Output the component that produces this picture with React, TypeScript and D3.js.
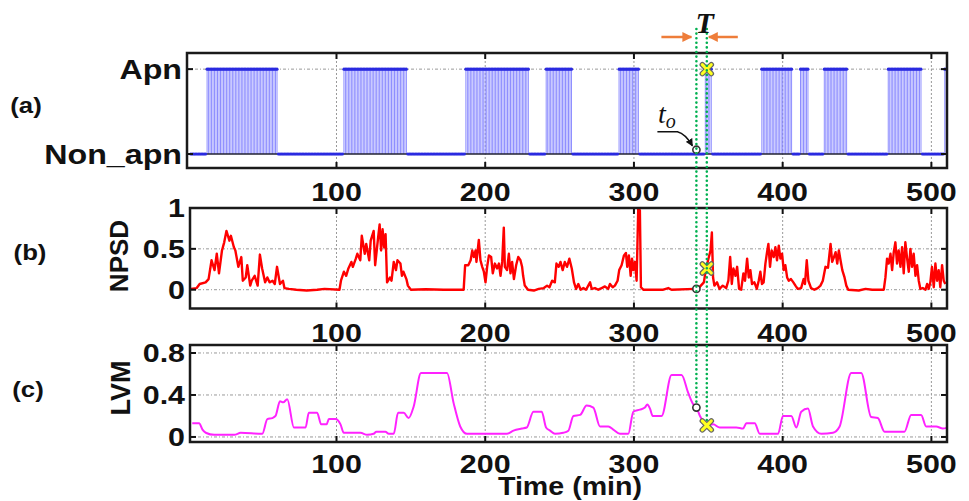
import React, { useEffect, useRef } from 'react';
import * as d3 from 'd3';

const W = 969;
const H = 501;

// apnea episodes in minutes (start / end), everything else is Non_apn
const apneaStart = [13, 105, 187, 241, 290, 348, 386, 412, 428, 471, 509];
const apneaEnd = [60, 147, 229, 258, 303, 352, 406, 417, 443, 493, 510];

const xTicks = [100, 200, 300, 400, 500];
const npsdTicks = [0, 0.5, 1];
const lvmTicks = [0, 0.4, 0.8];

// NPSD [time (min), value]
const npsd = [
  [2, 0.01], [6, 0.02], [8, 0.07], [12, 0.09], [14, 0.13], [16, 0.36], [18, 0.24], [19.5, 0.44], [21, 0.2], [23, 0.48],
  [24.5, 0.58], [26, 0.72], [28, 0.6], [29, 0.66], [31, 0.52], [32, 0.48], [34, 0.28], [36, 0.4], [37, 0.11], [39, 0.15],
  [40, 0.3], [42, 0.05], [43, 0.11], [45, 0.17], [47, 0.05], [48.5, 0.43], [50, 0.26], [52, 0.09], [53.5, 0.15], [55, 0.09],
  [57, 0.11], [58.5, 0.07], [60, 0.28], [62, 0.07], [64, 0.11], [65, 0.02], [68, 0.01], [73, 0], [80, -0.01], [87, 0],
  [92, 0.01], [102, 0], [103, 0.11], [105, 0.22], [106.5, 0.17], [108, 0.26], [110, 0.34], [111, 0.28], [113, 0.38], [114, 0.44],
  [116, 0.36], [117, 0.66], [119, 0.44], [120, 0.56], [122, 0.36], [123, 0.6], [125, 0.72], [126, 0.3], [128, 0.64], [129, 0.8],
  [130, 0.48], [131, 0.74], [132, 0.52], [133, 0.68], [134, 0.09], [136, 0.15], [137, 0.11], [138.5, 0.34], [140, 0.24], [141, 0.36],
  [143, 0.32], [144, 0.17], [145, 0.22], [147, 0.13], [148, 0.05], [150, 0], [160, 0.005], [172, 0], [185.5, 0],
  [186.5, 0.3], [188.6, 0.3], [190.2, 0.36], [191.3, 0.48], [192.4, 0.4], [193.5, 0.48], [194.1, 0.34], [195.7, 0.61], [196.8, 0.36], [198, 0.28],
  [199.1, 0.22], [200.2, 0.09], [201.3, 0.28], [202.5, 0.42], [204, 0.4], [205.1, 0.2], [206.5, 0.32], [208, 0.26], [209.2, 0.32], [210.3, 0.17],
  [211.4, 0.34], [212.5, 0.76], [213.2, 0.28], [214.7, 0.24], [215.9, 0.44], [217, 0.2], [218.1, 0.34], [219.3, 0.13], [220.8, 0.3], [222.2, 0.4],
  [223.7, 0.36], [224.8, 0.28], [225.5, 0.17], [226.6, 0.05], [228.8, 0], [232.7, -0.01], [236, 0.01], [239.4, 0.02], [241.6, 0.05], [243.2, 0.03],
  [245, 0.11], [246.8, 0.09], [247.9, 0.32], [249.4, 0.28], [250.6, 0.34], [252.1, 0.24], [253.5, 0.34], [255, 0.28], [256.6, 0.38], [258.2, 0.26],
  [259.7, 0.09], [261.1, 0.01], [262.6, 0.07], [264.2, 0], [266, 0.02], [267.8, 0], [269.3, 0.05], [270.5, 0.09], [271.6, 0.01], [273.8, 0.02],
  [276, 0], [278.3, 0.02], [280.5, 0.04], [282.7, 0.01], [283.9, 0.07], [285.7, 0.03], [287.2, 0.05], [289, 0.11], [290.1, 0.24], [291.7, 0.3],
  [293.3, 0.42], [294.6, 0.45], [295.5, 0.28], [296.6, 0.42], [297.8, 0.17], [298.7, 0.38], [299.6, 0.24], [300.7, 0.34], [301.8, 0.11], [302.9, 1.0],
  [304, 0.97], [304.7, 0.03], [306.3, 0], [319.7, 0], [323.1, 0.02], [325.3, 0], [341, 0.01], [343, 0.01], [347, 0.09], [348.5, 0.26],
  [350.1, 0.38], [351.5, 0.48], [352.4, 0.7], [353.2, 0.15], [354.1, 0.05], [355.9, 0.09], [357.5, 0.01], [359.7, 0.05], [362, 0.02], [363.5, 0.11],
  [364.7, 0.4], [365.8, 0.07], [366.9, 0.26], [368.3, 0.17], [369.4, 0.28], [370.7, 0.01], [372.1, 0], [373.6, 0.2], [374.7, 0.11], [376.1, 0.38],
  [377.2, 0.15], [378.3, 0.24], [379.4, 0.07], [381, 0.09], [382.6, 0.01], [383.9, 0.11], [385, 0.22], [386.1, 0.07], [387.2, 0.09], [388.4, 0.32],
  [389.5, 0.46], [390.4, 0.56], [391.5, 0.28], [392.6, 0.48], [394, 0.4], [395.1, 0.52], [396.2, 0.36], [397.4, 0.54], [398.5, 0.38], [399.6, 0.44],
  [400.7, 0.24], [401.8, 0.3], [403, 0.15], [404.1, 0.11], [405.6, 0.13], [407.2, 0.09], [408.6, 0.05], [410.1, 0.01], [412.4, 0.02], [414.1, 0.13],
  [415, 0.07], [416.2, 0.36], [417.3, 0.11], [419.1, 0.02], [421.3, 0], [423.6, 0.02], [425.4, 0.05], [427, 0.11], [428.8, 0.28], [430.5, 0.27],
  [432.2, 0.56], [433.3, 0.34], [434.5, 0.4], [435.6, 0.46], [436.7, 0.32], [437.8, 0.48], [438.9, 0.36], [440.1, 0.24], [441.6, 0.15], [442.8, 0.05],
  [444.1, 0], [451.2, -0.01], [455.7, 0.01], [460.2, 0], [468, 0], [469.1, 0.15], [470.2, 0.38], [471.3, 0.32], [472.5, 0.44], [473.6, 0.24],
  [474.7, 0.46], [475.8, 0.58], [476.9, 0.32], [478, 0.48], [479.2, 0.28], [480.3, 0.52], [481.4, 0.2], [482.5, 0.58], [483.7, 0.38], [484.8, 0.22],
  [485.9, 0.5], [487, 0.28], [488.1, 0.44], [489.3, 0.17], [490.4, 0.3], [491.5, 0.11], [492.6, 0.01], [494.2, 0.02], [496, 0], [497.1, 0.07],
  [498.2, 0.01], [499.3, 0.09], [500.4, 0.28], [501.6, 0.03], [502.7, 0.32], [503.8, 0.11], [504.9, 0.24], [506, 0.03], [507.2, 0.3], [508.3, 0.11],
  [509.4, 0.07],
];

// LVM [time (min), value]
const lvm = [
  [3, 0.13], [7.6, 0.13], [9.9, 0.07], [12.1, 0.04], [17.8, 0.02], [31.3, 0.02], [35.6, 0.04], [50.1, 0.03], [53.5, 0.17], [56.8, 0.18],
  [59, 0.2], [62, 0.34], [64.2, 0.33], [66.9, 0.36], [71.4, 0.09], [79.2, 0.09], [81.4, 0.23], [87, 0.23], [89.7, 0.12], [93.3, 0.12],
  [94.9, 0.17], [99.3, 0.17], [102.7, 0.12], [104.9, 0.04], [116.1, 0.04], [120.6, 0.02], [125, 0.03], [126.8, 0.05], [132.9, 0.05], [135.1, 0.03],
  [138.5, 0.03], [141.4, 0.23], [145.2, 0.23], [148.5, 0.18], [151.9, 0.29], [156.8, 0.61], [174.3, 0.61], [178.8, 0.32], [183.2, 0.1], [187.7, 0.03],
  [214.5, 0.03], [219, 0.06], [224.6, 0.08], [227.9, 0.09], [232.4, 0.24], [238, 0.24], [240.9, 0.09], [243.6, 0.06], [246.9, 0.03], [252.5, 0.04],
  [255.9, 0.06], [259.3, 0.2], [263.8, 0.21], [268.2, 0.3], [272.7, 0.28], [277.2, 0.1], [282.8, 0.1], [286.1, 0.07], [290.6, 0.03], [296.2, 0.03],
  [299.6, 0.24], [304, 0.26], [307.4, 0.28], [309, 0.31], [310.8, 0.27], [312.6, 0.2], [318.6, 0.2], [325.3, 0.59], [332, 0.59], [336.5, 0.42],
  [339.9, 0.31], [342.1, 0.28], [344.4, 0.2], [346.6, 0.15], [349.5, 0.11], [353.3, 0.12], [357.7, 0.09], [362.2, 0.09], [368.9, 0.09], [373.4, 0.08],
  [375.6, 0.13], [381.2, 0.13], [384.6, 0.03], [396.9, 0.03], [400.2, 0.2], [405.8, 0.2], [409.2, 0.09], [412.5, 0.24], [417, 0.27], [420.4, 0.1],
  [426, 0.03], [433.8, 0.04], [438.3, 0.1], [446.1, 0.61], [452.8, 0.61], [459.5, 0.19], [464, 0.18], [468.5, 0.05], [481.9, 0.05], [486.4, 0.21],
  [493.1, 0.21], [496.5, 0.1], [503.2, 0.1], [507.7, 0.08], [511, 0.09],
];

// onset (t_o) and detection time, marker values in panels a/b/c: [circle, cross]
const tOnset = 342;
const tDetect = 349;
const markA = [0.05, 1];
const markB = [0.01, 0.26];
const markC = [0.28, 0.11];

const font = '"Liberation Sans", Arial, sans-serif';
const serif = '"Liberation Serif", "Times New Roman", serif';

function App() {
  const ref = useRef(null);

  useEffect(() => {
    const svg = d3.select(ref.current);
    svg.selectAll('*').remove();

    const x = d3.scaleLinear().domain([1.5, 510.5]).range([190, 947]);

    const yA = d3.scaleLinear().domain([-0.165, 1.19]).range([168, 53]);
    const yB = d3.scaleLinear().domain([-0.23, 1.0]).range([308.5, 208]);
    const yC = d3.scaleLinear().domain([-0.048, 0.876]).range([442, 345]);

    const label = (g, px, py, txt, size, anchor, sx = 1.15) => {
      g.append('text')
        .attr('transform', `translate(${px},${py}) scale(${sx},1)`)
        .attr('text-anchor', anchor)
        .attr('font-family', font)
        .attr('font-weight', 'bold')
        .attr('font-size', size)
        .attr('fill', '#111')
        .text(txt);
    };

    const defs = svg.append('defs');

    // grid of one panel
    const drawGrid = (g, y, left, hGrid) => {
      const [bot, top] = y.range();
      xTicks.forEach(t => {
        g.append('line').attr('x1', x(t)).attr('x2', x(t)).attr('y1', top).attr('y2', bot)
          .attr('stroke', '#999').attr('stroke-width', 1).attr('stroke-dasharray', '2,2');
      });
      hGrid.forEach(v => {
        g.append('line').attr('x1', left).attr('x2', x.range()[1]).attr('y1', y(v)).attr('y2', y(v))
          .attr('stroke', '#999').attr('stroke-width', 1).attr('stroke-dasharray', '3,2,1,2');
      });
    };

    // box, inward ticks and tick labels
    const drawFrame = (g, y, left, yTicks, yLabels, labelSize, labelSx, xLabelGap) => {
      const [bot, top] = y.range();
      const right = x.range()[1];
      xTicks.forEach(t => {
        g.append('line').attr('x1', x(t)).attr('x2', x(t)).attr('y1', bot).attr('y2', bot - 6).attr('stroke', '#111').attr('stroke-width', 2);
        g.append('line').attr('x1', x(t)).attr('x2', x(t)).attr('y1', top).attr('y2', top + 6).attr('stroke', '#111').attr('stroke-width', 2);
        label(g, x(t), bot + xLabelGap, String(t), 26, 'middle', 1.17);
      });
      yTicks.forEach((v, i) => {
        g.append('line').attr('x1', left).attr('x2', left + 6).attr('y1', y(v)).attr('y2', y(v)).attr('stroke', '#111').attr('stroke-width', 2);
        g.append('line').attr('x1', right).attr('x2', right - 6).attr('y1', y(v)).attr('y2', y(v)).attr('stroke', '#111').attr('stroke-width', 2);
        label(g, left - 5, y(v) + labelSize * 0.36, yLabels[i], labelSize, 'end', labelSx);
      });
      g.append('rect').attr('x', left).attr('y', top).attr('width', right - left).attr('height', bot - top)
        .attr('fill', 'none').attr('stroke', '#1a1a1a').attr('stroke-width', 2.5);
    };

    const openCircle = (g, cx, cy) => {
      g.append('circle').attr('cx', cx).attr('cy', cy).attr('r', 3.6)
        .attr('fill', '#fff').attr('stroke', '#333').attr('stroke-width', 1.6);
    };
    const cross = (g, cx, cy) => {
      const s = 4.5;
      const d = `M${cx - s},${cy - s}L${cx + s},${cy + s}M${cx - s},${cy + s}L${cx + s},${cy - s}`;
      g.append('path').attr('d', d).attr('stroke', '#666').attr('stroke-width', 5.5).attr('stroke-linecap', 'round');
      g.append('path').attr('d', d).attr('stroke', '#ffff20').attr('stroke-width', 3).attr('stroke-linecap', 'round');
    };

    // ---------- (a) apnea / non-apnea stem plot
    const gA = svg.append('g');
    drawGrid(gA, yA, 187, [1]);
    const minutes = d3.range(2, 511);
    const isApnea = t => apneaStart.some((s, i) => t >= s && t <= apneaEnd[i]);
    const state = minutes.map(t => ({ t, v: isApnea(t) ? 1 : 0 }));
    gA.append('g').selectAll('line').data(state.filter(d => d.v === 1)).enter().append('line')
      .attr('x1', d => x(d.t)).attr('x2', d => x(d.t))
      .attr('y1', yA(0)).attr('y2', yA(1))
      .attr('stroke', '#8080ff').attr('stroke-width', 0.9);
    gA.append('line').attr('x1', 187).attr('x2', x.range()[1]).attr('y1', yA(0)).attr('y2', yA(0))
      .attr('stroke', '#223').attr('stroke-width', 1.5);
    gA.append('g').selectAll('circle').data(state).enter().append('circle')
      .attr('cx', d => x(d.t)).attr('cy', d => yA(d.v)).attr('r', 1.6)
      .attr('fill', '#2a2ae0');
    drawFrame(gA, yA, 187, [1, 0], ['Apn', 'Non_apn'], 28, 1.15, 33);
    openCircle(gA, x(tOnset), yA(markA[0]));
    cross(gA, x(tDetect), yA(markA[1]));

    // ---------- (b) NPSD
    const gB = svg.append('g');
    drawGrid(gB, yB, 190, [0, 0.5]);
    defs.append('clipPath').attr('id', 'clipB').append('rect')
      .attr('x', 190).attr('y', 208).attr('width', 757).attr('height', 100.5);
    gB.append('path').datum(npsd)
      .attr('clip-path', 'url(#clipB)')
      .attr('d', d3.line().x(d => x(d[0])).y(d => yB(d[1])))
      .attr('fill', 'none').attr('stroke', '#ff0000').attr('stroke-width', 2.4).attr('stroke-linejoin', 'round');
    drawFrame(gB, yB, 190, npsdTicks, ['0', '0.5', '1'], 26, 1.17, 33);
    openCircle(gB, x(tOnset), yB(markB[0]));
    cross(gB, x(tDetect), yB(markB[1]));

    // ---------- (c) LVM
    const gC = svg.append('g');
    drawGrid(gC, yC, 190, lvmTicks);
    defs.append('clipPath').attr('id', 'clipC').append('rect')
      .attr('x', 190).attr('y', 345).attr('width', 757).attr('height', 97);
    gC.append('path').datum(lvm)
      .attr('clip-path', 'url(#clipC)')
      .attr('d', d3.line().x(d => x(d[0])).y(d => yC(d[1])).curve(d3.curveMonotoneX))
      .attr('fill', 'none').attr('stroke', '#ff22ff').attr('stroke-width', 2).attr('stroke-linejoin', 'round');
    drawFrame(gC, yC, 190, lvmTicks, ['0', '0.4', '0.8'], 26, 1.17, 31);

    // panel letters, y titles, x title
    label(svg, 26, 113, '(a)', 23, 'middle', 1.12);
    label(svg, 30, 260, '(b)', 23, 'middle', 1.12);
    label(svg, 28, 397, '(c)', 23, 'middle', 1.12);
    svg.append('text').attr('transform', 'translate(128,256) rotate(-90)')
      .attr('text-anchor', 'middle').attr('font-family', font).attr('font-weight', 'bold')
      .attr('font-size', 26).attr('fill', '#111').text('NPSD');
    svg.append('text').attr('transform', 'translate(130,388) rotate(-90)')
      .attr('text-anchor', 'middle').attr('font-family', font).attr('font-weight', 'bold')
      .attr('font-size', 27).attr('fill', '#111').text('LVM');
    label(svg, 570, 495, 'Time (min)', 26, 'middle', 1.1);

    // ---------- window annotation: green dotted lines, arrows, T and t_o
    const gN = svg.append('g');
    [[tOnset, yC(markC[0])], [tDetect, yC(markC[1])]].forEach(([t, yEnd]) => {
      gN.append('line').attr('x1', x(t)).attr('x2', x(t)).attr('y1', 29).attr('y2', yEnd)
        .attr('stroke', '#00b050').attr('stroke-width', 2.6)
        .attr('stroke-dasharray', '0,4.6').attr('stroke-linecap', 'round');
    });
    openCircle(gN, x(tOnset), yC(markC[0]));
    cross(gN, x(tDetect), yC(markC[1]));

    const orange = '#ee7d3a';
    defs.append('marker').attr('id', 'headO').attr('viewBox', '0 0 10 10')
      .attr('refX', 9).attr('refY', 5).attr('markerWidth', 4).attr('markerHeight', 4)
      .attr('markerUnits', 'strokeWidth').attr('orient', 'auto')
      .append('path').attr('d', 'M0,0L10,5L0,10Z').attr('fill', orange);
    gN.append('line').attr('x1', x(tOnset) - 35).attr('x2', x(tOnset) - 5).attr('y1', 37).attr('y2', 37)
      .attr('stroke', orange).attr('stroke-width', 2.5).attr('marker-end', 'url(#headO)');
    gN.append('line').attr('x1', x(tDetect) + 31).attr('x2', x(tDetect) + 2).attr('y1', 37).attr('y2', 37)
      .attr('stroke', orange).attr('stroke-width', 2.5).attr('marker-end', 'url(#headO)');
    gN.append('text').attr('x', (x(tOnset) + x(tDetect)) / 2 + 3).attr('y', 33)
      .attr('text-anchor', 'middle').attr('font-family', serif).attr('font-style', 'italic')
      .attr('font-weight', 'bold').attr('font-size', 30).attr('fill', '#111').text('T');

    const to = gN.append('text').attr('x', 658).attr('y', 123)
      .attr('font-family', serif).attr('font-style', 'italic').attr('font-size', 28).attr('fill', '#111');
    to.append('tspan').text('t');
    to.append('tspan').attr('dy', 5).attr('font-size', 20).text('o');

    defs.append('marker').attr('id', 'headK').attr('viewBox', '0 0 10 10')
      .attr('refX', 9).attr('refY', 5).attr('markerWidth', 5).attr('markerHeight', 5)
      .attr('markerUnits', 'strokeWidth').attr('orient', 'auto')
      .append('path').attr('d', 'M0,0L10,5L0,10Z').attr('fill', '#111');
    const cx0 = x(tOnset);
    const cy0 = yA(markA[0]);
    const arrowPath = d3.path();
    arrowPath.moveTo(cx0 - 39, cy0 - 18);
    arrowPath.lineTo(cx0 - 19, cy0 - 18);
    arrowPath.quadraticCurveTo(cx0 - 11, cy0 - 16, cx0 - 4, cy0 - 4);
    gN.append('path')
      .attr('d', arrowPath.toString())
      .attr('fill', 'none').attr('stroke', '#111').attr('stroke-width', 1.5).attr('marker-end', 'url(#headK)');
  }, []);

  return (
    <svg ref={ref} width={W} height={H}
      style={{ position: 'absolute', left: 0, top: 0, background: '#fff' }} />
  );
}

export default App;
